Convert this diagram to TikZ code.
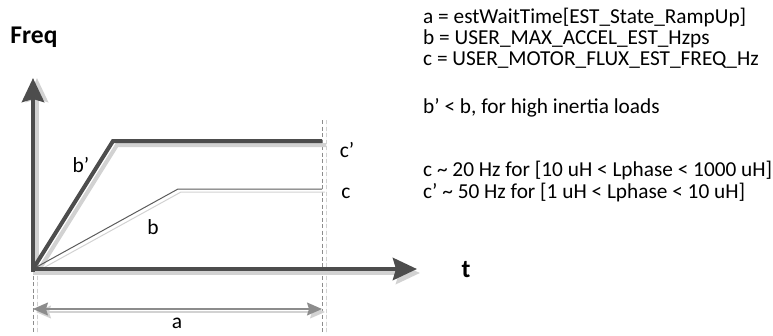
\documentclass[tikz,border=0pt]{standalone}
\usepackage{fontspec}
\setmainfont{Carlito}
\usetikzlibrary{arrows.meta}
\definecolor{AxisInk}{HTML}{4D4D4D}
\definecolor{ShadeGray}{HTML}{D2D2D2}
\definecolor{GuideGray}{HTML}{8C8C8C}
\definecolor{ThinInk}{HTML}{5A5A5A}

\begin{document}
\begin{tikzpicture}[
      x=1pt,y=-1pt,
      axis/.style={-{Stealth[length=24pt,width=22pt,inset=3pt]},line width=4.5pt,draw=AxisInk},
      fastramp/.style={line width=4pt,draw=AxisInk,line join=miter},
      slowramp/.style={line width=1pt,draw=ThinInk},
      guide/.style={dash pattern=on 4pt off 2.5pt,line width=1pt,draw=GuideGray},
      span/.style={{Stealth[length=15pt,width=13pt,inset=2pt]}-{Stealth[length=15pt,width=13pt,inset=2pt]},line width=1.2pt,draw=GuideGray,fill=AxisInk},
      shade/.style={draw=ShadeGray,fill=ShadeGray},
      lbl/.style={font=\fontsize{21.5}{24}\selectfont,inner sep=0pt},
      note/.style={font=\fontsize{21.3}{24}\selectfont,inner sep=0pt,anchor=west}
    ]
    \path[use as bounding box] (0,0) rectangle (773,335);
    \coordinate (O) at (33,269);
    \coordinate (ybase) at (33,272);
    \coordinate (ytip) at (33,78);
    \coordinate (xtip) at (417,269);
    \coordinate (bknee) at (113,141);
    \coordinate (bend) at (322,141);
    \coordinate (cknee) at (178,189);
    \coordinate (cend) at (322,189);
    \coordinate (gl) at (33,333);
    \coordinate (grtop) at (322,120);
    \coordinate (gr) at (322,333);
    \coordinate (al) at (33,309);
    \coordinate (ar) at (322,309);

    \draw[guide,shade] ([xshift=4.5]O) -- ([xshift=4.5]gl);
    \draw[guide,shade] ([xshift=4.5]grtop) -- ([xshift=4.5]gr);
    \draw[guide] (O) -- (gl);
    \draw[guide] (grtop) -- (gr);

    \draw[axis,shade] ([shift={(4,0)}]ybase) -- ([shift={(4,0)}]ytip);
    \draw[axis,shade] ([shift={(0,4)}]O) -- ([shift={(3,4)}]xtip);
    \draw[fastramp,shade,fill=none] ([shift={(4,4)}]O) -- ([shift={(4,4)}]bknee) -- ([shift={(4,4)}]bend);
    \draw[slowramp,shade,fill=none] ([shift={(3,3)}]O) -- ([shift={(3,3)}]cknee) -- ([shift={(3,3)}]cend);

    \draw[fastramp] (O) -- (bknee) -- (bend);
    \draw[slowramp] (O) -- (cknee) -- (cend);
    \draw[axis] (ybase) -- (ytip);
    \draw[axis] ([xshift=-2]O) -- (xtip);

    \draw[span,shade] ([shift={(3,3)}]al) -- ([shift={(3,3)}]ar);
    \draw[span] (al) -- (ar);

    \node[font=\fontsize{25.5}{28}\selectfont\bfseries,inner sep=0pt] (freq) at (34,37) {Freq};
    \node[font=\fontsize{25.5}{28}\selectfont\bfseries,inner sep=0pt] (time) at (466,270) {t};
    \node[lbl] (bplabel) at (81,165) {b’};
    \node[lbl] (blabel) at (153,227) {b};
    \node[lbl] (cplabel) at (347,150) {c’};
    \node[lbl] (clabel) at (346,193) {c};
    \node[lbl] (alabel) at (177,323) {a};

    \node[note] (defa) at (423,18) {a = estWaitTime[EST\_State\_RampUp]};
    \node[note] (defb) at (423,39) {b = USER\_MAX\_ACCEL\_EST\_Hzps};
    \node[note] (defc) at (423,60) {c = USER\_MOTOR\_FLUX\_EST\_FREQ\_Hz};
    \node[note] (inertia) at (423,108) {b’ < b, for high inertia loads};
    \node[note] (clow) at (423,171) {c \textasciitilde{} 20 Hz for [10 uH < Lphase < 1000 uH]};
    \node[note] (chigh) at (423,193) {c’ \textasciitilde{} 50 Hz for [1 uH < Lphase < 10 uH]};
  \end{tikzpicture}
\end{document}
